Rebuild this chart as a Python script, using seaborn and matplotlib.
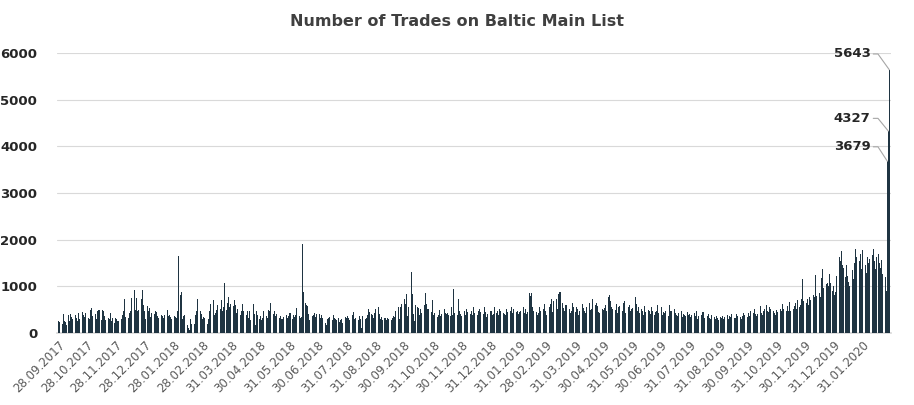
import matplotlib
matplotlib.use("Agg")
import matplotlib.pyplot as plt
import seaborn as sns
import pandas as pd

# daily trade counts per month (business days in order)
sep_2017 = [260, 230]
oct_2017 = [200, 400, 250, 230, 180, 390, 260, 410, 350, 300, 380, 330, 260, 420, 300, 450, 380, 280, 340, 430, 310, 290]
nov_2017 = [500, 530, 360, 410, 300, 470, 380, 490, 280, 500, 470, 360, 270, 310, 290, 420, 260, 310, 210, 320, 290, 250, 380]
dec_2017 = [260, 300, 390, 480, 720, 340, 330, 430, 370, 460, 750, 930, 500, 750, 480, 500, 720, 930, 590, 480, 300, 300, 300]
jan_2018 = [570, 480, 530, 340, 420, 410, 470, 440, 360, 320, 390, 300, 360, 310, 380, 500, 360, 380, 340, 290, 360, 350, 320]
feb_2018 = [480, 1640, 820, 870, 290, 360, 390, 180, 100, 60, 300, 200, 200, 180, 380, 480, 720, 460, 400, 290, 320, 330, 340]
mar_2018 = [340, 330, 200, 290, 460, 360, 620, 700, 390, 420, 500, 600, 520, 700, 480, 560, 1080, 500, 640, 780, 560, 620, 450]
apr_2018 = [580, 700, 600, 420, 520, 380, 410, 480, 620, 460, 380, 460, 330, 470, 280, 620, 400, 180, 460, 390, 300, 360, 330]
may_2018 = [370, 280, 330, 480, 370, 320, 500, 480, 650, 400, 390, 470, 360, 400, 310, 370, 300, 290, 350, 380, 330, 370, 380]
jun_2018 = [430, 300, 390, 340, 380, 540, 360, 330, 350, 1900, 870, 650, 590, 580, 400, 280, 370, 380, 420, 350, 400, 330, 300]
jul_2018 = [400, 320, 280, 380, 330, 210, 160, 300, 320, 350, 270, 380, 330, 300, 280, 330, 230, 270, 300, 210, 350, 330, 300]
aug_2018 = [360, 330, 280, 380, 380, 440, 290, 330, 270, 360, 300, 100, 370, 300, 310, 390, 520, 440, 400, 380, 320, 430, 520]
sep_2018 = [550, 400, 300, 350, 280, 320, 310, 270, 320, 300, 280, 330, 370, 350, 470, 560, 290, 370, 560, 620, 750, 700, 650]
oct_2018 = [730, 620, 830, 370, 560, 1300, 830, 400, 260, 600, 560, 540, 380, 520, 430, 600, 850, 630, 520, 510, 440, 700, 390]
nov_2018 = [390, 420, 350, 380, 490, 360, 400, 520, 420, 400, 430, 380, 360, 560, 390, 950, 420, 380, 720, 460, 400, 360, 350]
dec_2018 = [430, 460, 380, 520, 440, 400, 460, 380, 560, 420, 390, 470, 510, 450, 380, 400, 560, 440, 350, 400, 470, 410, 430]
jan_2019 = [460, 380, 410, 560, 420, 480, 390, 520, 460, 430, 400, 380, 510, 440, 470, 560, 420, 390, 520, 450, 480, 410, 440]
feb_2019 = [470, 560, 430, 520, 400, 440, 850, 800, 860, 560, 480, 440, 380, 420, 560, 480, 430, 520, 610, 470, 420, 380, 440]
mar_2019 = [390, 560, 620, 730, 450, 680, 720, 520, 830, 560, 880, 640, 540, 470, 590, 600, 520, 430, 480, 640, 560, 420, 400]
apr_2019 = [450, 560, 520, 390, 480, 610, 540, 470, 430, 560, 640, 500, 520, 460, 720, 600, 640, 580, 450, 420, 520, 500, 480]
may_2019 = [540, 600, 460, 780, 820, 690, 560, 520, 490, 610, 430, 560, 580, 470, 640, 520, 680, 420, 560, 600, 470, 520, 540]
jun_2019 = [760, 620, 480, 560, 420, 520, 460, 390, 580, 440, 500, 470, 410, 560, 480, 390, 440, 480, 600, 420, 470, 390, 460]
jul_2019 = [560, 380, 440, 420, 480, 360, 600, 380, 460, 400, 520, 430, 380, 360, 420, 470, 350, 410, 380, 360, 440, 380, 400]
aug_2019 = [340, 380, 420, 360, 480, 300, 360, 390, 320, 440, 280, 310, 360, 410, 330, 300, 380, 340, 290, 360, 320, 280, 300]
sep_2019 = [350, 330, 360, 300, 340, 380, 300, 360, 340, 400, 320, 290, 330, 410, 370, 340, 300, 360, 420, 380, 350, 330, 390]
oct_2019 = [420, 360, 480, 380, 430, 520, 400, 360, 410, 580, 430, 380, 460, 520, 600, 470, 440, 560, 520, 480, 420, 380, 500]
nov_2019 = [440, 520, 480, 560, 620, 520, 460, 580, 480, 660, 460, 520, 580, 640, 520, 700, 560, 600, 720, 1150, 680, 560, 600]
dec_2019 = [640, 720, 600, 760, 700, 820, 600, 780, 1240, 800, 860, 760, 1180, 1360, 960, 1040, 1080, 1000, 1260, 1080, 900, 1000, 980]
jan_2020 = [820, 880, 1220, 1620, 1550, 1750, 1450, 1400, 1200, 1460, 1220, 1100, 1000, 1350, 1150, 1500, 1800, 1620, 1550, 1700, 1380, 1250, 1780]
feb_2020 = [1450, 1280, 1620, 1500, 1580, 1680, 1800, 1540, 1380, 1620, 1700, 1500, 1400, 1560, 1260, 1200, 900, 3679, 4327, 5643]

months = [sep_2017, oct_2017, nov_2017, dec_2017, jan_2018, feb_2018, mar_2018, apr_2018,
          may_2018, jun_2018, jul_2018, aug_2018, sep_2018, oct_2018, nov_2018, dec_2018,
          jan_2019, feb_2019, mar_2019, apr_2019, may_2019, jun_2019, jul_2019, aug_2019,
          sep_2019, oct_2019, nov_2019, dec_2019, jan_2020, feb_2020]
month_starts = pd.date_range("2017-09-01", periods=len(months), freq="MS")

tick_labels = ["28.09.2017", "28.10.2017", "28.11.2017", "28.12.2017", "28.01.2018", "28.02.2018",
               "31.03.2018", "30.04.2018", "31.05.2018", "30.06.2018", "31.07.2018", "31.08.2018",
               "30.09.2018", "31.10.2018", "30.11.2018", "31.12.2018", "31.01.2019", "28.02.2019",
               "31.03.2019", "30.04.2019", "31.05.2019", "30.06.2019", "31.07.2019", "31.08.2019",
               "30.09.2019", "31.10.2019", "30.11.2019", "31.12.2019", "31.01.2020"]

rows = []
for start, vals in zip(month_starts, months):
    days = pd.bdate_range(start, start + pd.offsets.MonthEnd(0))
    if start == month_starts[0]:
        days = days[days >= "2017-09-28"]
    for d, v in zip(days, vals):
        rows.append((d, v))
df = pd.DataFrame(rows, columns=["date", "trades"])

sns.set_theme(style="white")
fig = plt.figure(figsize=(9.14, 4.05), dpi=100)
ax = fig.add_axes([0.062, 0.178, 0.913, 0.691])

ax.bar(df["date"], df["trades"], width=1.1, color="#1f3442", linewidth=0, zorder=3)

ax.set_ylim(0, 6000)
ax.set_yticks(range(0, 6001, 1000))
ax.grid(axis="y", color="#d9d9d9", linewidth=0.8, zorder=0)
ax.set_xlim(pd.Timestamp("2017-09-26"), pd.Timestamp("2020-03-01"))
ticks = pd.to_datetime(tick_labels, format="%d.%m.%Y")
ax.set_xticks(ticks)
ax.set_xticklabels(tick_labels, rotation=45, ha="right", rotation_mode="anchor",
                   fontsize=8.5, color="#595959")
ax.tick_params(axis="y", labelsize=9.5, labelcolor="#262626", length=0, pad=14)
ax.tick_params(axis="x", length=0, pad=4)
for lab in ax.get_yticklabels():
    lab.set_fontweight("bold")
sns.despine(ax=ax, left=True, bottom=False)
ax.spines["bottom"].set_color("#d9d9d9")

# labels for the last three days, with a short leader then a slanted line to the bar top
tail = df.tail(3).reset_index(drop=True)
label_y = [3990, 4600, 5980]
for i, row in tail.iterrows():
    lx = pd.Timestamp("2020-02-08")
    ax.text(lx, label_y[i], f"{row['trades']}", fontsize=9.5, fontweight="bold",
            color="#262626", ha="right", va="center")
    knee = lx + pd.Timedelta(days=8)
    ax.plot([lx + pd.Timedelta(days=3), knee, row["date"]],
            [label_y[i], label_y[i], row["trades"]],
            color="#a6a6a6", lw=0.8, zorder=4, clip_on=False)

fig.suptitle("Number of Trades on Baltic Main List", y=0.965, fontsize=11.5,
             fontweight="bold", color="#404040")

fig.savefig("out.png", dpi=100)
